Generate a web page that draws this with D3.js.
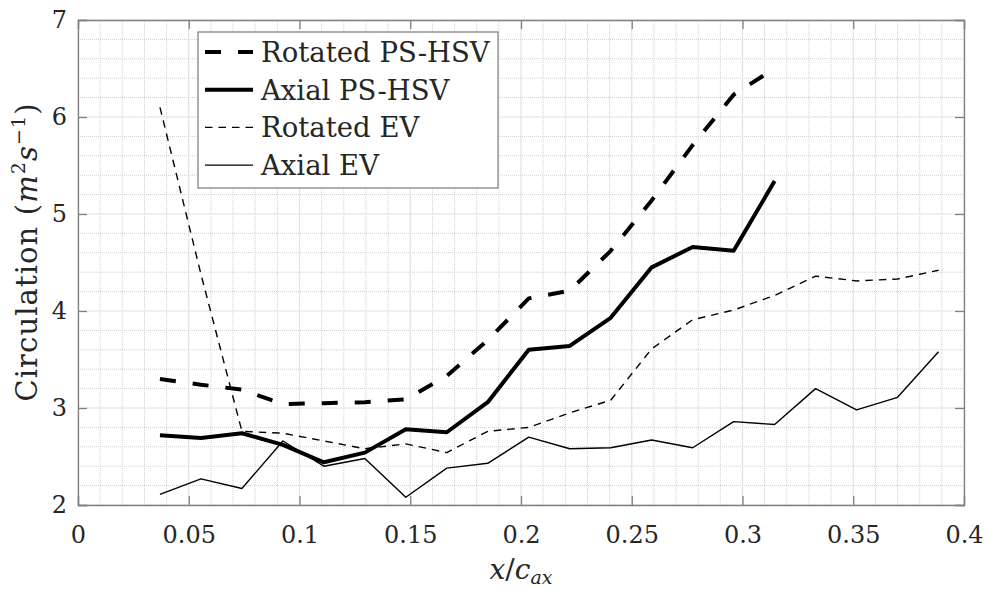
<!DOCTYPE html>
<html>
<head>
<meta charset="utf-8">
<script src="https://cdn.jsdelivr.net/npm/d3@7"></script>
<style>
  html, body { margin: 0; padding: 0; background: #fff; }
  svg { display: block; }
  text { font-family: "DejaVu Serif", serif; fill: #262626; }
</style>
</head>
<body>
<svg id="chart" width="988" height="589"></svg>
<script>
// Streamwise stations x/c_ax
const xStations = [0.037, 0.0555, 0.074, 0.0925, 0.111, 0.1295, 0.148, 0.1665, 0.185, 0.2035,
                   0.222, 0.2405, 0.259, 0.2775, 0.296, 0.3145, 0.333, 0.3515, 0.37, 0.3885];

// Circulation (m^2 s^-1) per series
const rotatedPsHsv = [3.30, 3.24, 3.19, 3.04, 3.05, 3.06, 3.09, 3.33, 3.70, 4.13,
                      4.21, 4.62, 5.14, 5.71, 6.23, 6.50];
const axialPsHsv   = [2.72, 2.69, 2.74, 2.62, 2.44, 2.54, 2.78, 2.75, 3.06, 3.60,
                      3.64, 3.93, 4.45, 4.66, 4.62, 5.34];
const rotatedEv    = [6.10, 4.38, 2.76, 2.74, 2.66, 2.58, 2.63, 2.54, 2.76, 2.80,
                      2.95, 3.08, 3.61, 3.91, 4.01, 4.16, 4.36, 4.31, 4.33, 4.42];
const axialEv      = [2.11, 2.27, 2.17, 2.66, 2.40, 2.48, 2.08, 2.38, 2.43, 2.70,
                      2.58, 2.59, 2.67, 2.59, 2.86, 2.83, 3.20, 2.98, 3.11, 3.58];

const seriesNames = ["Rotated PS-HSV", "Axial PS-HSV", "Rotated EV", "Axial EV"];
const xTickLabels = ["0", "0.05", "0.1", "0.15", "0.2", "0.25", "0.3", "0.35", "0.4"];
const yTickLabels = ["2", "3", "4", "5", "6", "7"];

const styles = [
  { width: 4,   dash: "16,17" },
  { width: 4,   dash: null },
  { width: 1.4, dash: "7.5,6" },
  { width: 1.4, dash: null }
];

const FONT = "DejaVu Serif";
const margin = { left: 78, right: 24, top: 20, bottom: 84 };
const W = 988, H = 589;
const iw = W - margin.left - margin.right;
const ih = H - margin.top - margin.bottom;

const svg = d3.select("#chart");
const g = svg.append("g").attr("transform", `translate(${margin.left},${margin.top})`);

const x = d3.scaleLinear().domain([0, 0.4]).range([0, iw]);
const y = d3.scaleLinear().domain([2, 7]).range([ih, 0]);

const xMajor = xTickLabels.map(Number);
const yMajor = yTickLabels.map(Number);
const xMinor = d3.range(0, 0.4001, 0.01).filter(v => Math.abs(v * 20 - Math.round(v * 20)) > 1e-6);
const yMinor = d3.range(2, 7.0001, 0.2).filter(v => Math.abs(v - Math.round(v)) > 1e-6);

// minor grid (dotted)
const grid = g.append("g");
grid.selectAll(".mx").data(xMinor).join("line")
  .attr("x1", d => x(d)).attr("x2", d => x(d)).attr("y1", 0).attr("y2", ih)
  .attr("stroke", "#cfcfcf").attr("stroke-width", 1).attr("stroke-dasharray", "1,1");
grid.selectAll(".my").data(yMinor).join("line")
  .attr("y1", d => y(d)).attr("y2", d => y(d)).attr("x1", 0).attr("x2", iw)
  .attr("stroke", "#cfcfcf").attr("stroke-width", 1).attr("stroke-dasharray", "1,1");
// major grid (solid)
grid.selectAll(".Mx").data(xMajor).join("line")
  .attr("x1", d => x(d)).attr("x2", d => x(d)).attr("y1", 0).attr("y2", ih)
  .attr("stroke", "#e2e2e2").attr("stroke-width", 1.2);
grid.selectAll(".My").data(yMajor).join("line")
  .attr("y1", d => y(d)).attr("y2", d => y(d)).attr("x1", 0).attr("x2", iw)
  .attr("stroke", "#e2e2e2").attr("stroke-width", 1.2);

// axes with inward ticks on all four sides
const axisColor = "#808080";
const tickLen = 9;
const xAxisB = d3.axisBottom(x).tickValues(xMajor).tickSize(-tickLen).tickPadding(21)
  .tickFormat((d, i) => xTickLabels[i]);
const xAxisT = d3.axisTop(x).tickValues(xMajor).tickSize(-tickLen).tickFormat("");
const yAxisL = d3.axisLeft(y).tickValues(yMajor).tickSize(-tickLen).tickPadding(11)
  .tickFormat((d, i) => yTickLabels[i]);
const yAxisR = d3.axisRight(y).tickValues(yMajor).tickSize(-tickLen).tickFormat("");

function styleAxis(sel) {
  sel.attr("font-family", FONT);
  sel.select(".domain").attr("stroke", axisColor).attr("stroke-width", 1.3);
  sel.selectAll(".tick line").attr("stroke", axisColor).attr("stroke-width", 1.3);
  sel.selectAll(".tick text").attr("font-family", FONT).attr("font-size", 24)
    .attr("fill", "#262626");
}
g.append("g").attr("transform", `translate(0,${ih})`).call(xAxisB).call(styleAxis);
g.append("g").call(xAxisT).call(styleAxis);
g.append("g").call(yAxisL).call(styleAxis);
g.append("g").attr("transform", `translate(${iw},0)`).call(yAxisR).call(styleAxis);

// series lines
const allSeries = [rotatedPsHsv, axialPsHsv, rotatedEv, axialEv];
const line = d3.line().x(d => x(d[0])).y(d => y(d[1]));
allSeries.forEach((vals, i) => {
  const pts = vals.map((v, k) => [xStations[k], v]);
  g.append("path").datum(pts)
    .attr("d", line)
    .attr("fill", "none")
    .attr("stroke", "#000")
    .attr("stroke-width", styles[i].width)
    .attr("stroke-linejoin", "round")
    .attr("stroke-dasharray", styles[i].dash);
});

// legend
const lg = svg.append("g").attr("transform", "translate(198,32)");
lg.append("rect").attr("x", 0).attr("y", 0).attr("width", 300).attr("height", 156)
  .attr("fill", "#fff").attr("stroke", "#7a7a7a").attr("stroke-width", 1.2);
seriesNames.forEach((name, i) => {
  const cy = 20 + i * 37.7;
  lg.append("line").attr("x1", 7).attr("x2", 55).attr("y1", cy).attr("y2", cy)
    .attr("stroke", "#000").attr("stroke-width", styles[i].width)
    .attr("stroke-dasharray", styles[i].dash);
  lg.append("text").attr("x", 63).attr("y", cy + 10)
    .attr("font-size", 27.5).attr("fill", "#000").text(name);
});

// x-axis label: x / c_ax
const xl = svg.append("text")
  .attr("x", margin.left + iw / 2).attr("y", 579)
  .attr("text-anchor", "middle").attr("font-size", 28).attr("fill", "#262626");
xl.append("tspan").attr("font-style", "italic").text("x");
xl.append("tspan").text("/");
xl.append("tspan").attr("font-style", "italic").text("c");
xl.append("tspan").attr("font-style", "italic").attr("font-size", 19).attr("dy", 5).text("ax");

// y-axis label: Circulation (m^2 s^-1)
const yl = svg.append("text")
  .attr("transform", `translate(37,252) rotate(-90)`)
  .attr("text-anchor", "middle").attr("font-size", 29).attr("letter-spacing", 1.1)
  .attr("fill", "#262626");
yl.append("tspan").text("Circulation (");
yl.append("tspan").attr("font-style", "italic").text("m");
yl.append("tspan").attr("font-size", 19).attr("dy", -12).text("2");
yl.append("tspan").attr("font-style", "italic").attr("dy", 12).text("s");
yl.append("tspan").attr("font-size", 19).attr("dy", -12).text("\u22121");
yl.append("tspan").attr("dy", 12).text(")");
</script>
</body>
</html>
